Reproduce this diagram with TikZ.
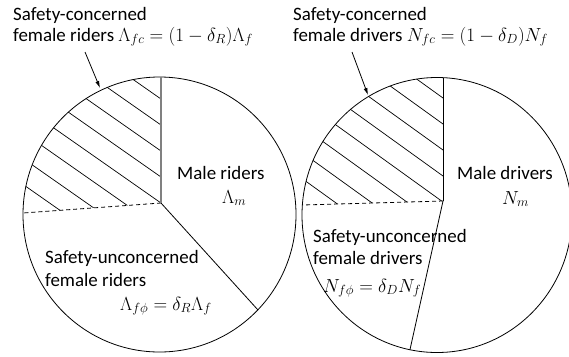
\documentclass[tikz,border=0pt]{standalone}
\usepackage{fix-cm}
\usepackage{fontspec}
\setmainfont{Carlito}
\usetikzlibrary{arrows.meta}

\tikzset{
  lbl/.style={anchor=base west, inner sep=0pt, font=\fontsize{19}{23}\selectfont},
  pie/.style={line width=0.8bp},
  hatch/.style={line width=0.7bp},
  split/.style={line width=0.8bp, dash pattern=on 4bp off 3bp},
  ptr/.style={line width=0.8bp, -{Latex[length=7bp, width=4bp]}},
}

\begin{document}
\begin{tikzpicture}[x=1bp, y=-1bp]
    \useasboundingbox (0,0) rectangle (569,356);
    % riders pie
    \coordinate (rc) at (159.5,214.5);
    \coordinate (ra) at (161,203);
    \coordinate (rtop) at (161,77);
    \coordinate (rlow) at (258,310);
    \coordinate (rleft) at (23,213);
    \begin{scope}
      \clip (rc) ellipse [x radius=136.5, y radius=137.5];
      \clip (ra) -- (161,0) -- (0,0) -- (0,214.7) -- cycle;
      \foreach \k in {0,...,7}
        \draw[hatch] (-39,{99+26*\k-140}) -- (161,{99+26*\k});
    \end{scope}
    \draw[pie] (rc) ellipse [x radius=136.5, y radius=137.5];
    \draw[pie] (ra) -- (rlow);
    \draw[split] (ra) -- (rleft);
    \draw[line width=1.3bp, gray] (ra) -- (rtop);
    % drivers pie
    \coordinate (dc) at (437,215);
    \coordinate (da) at (443,201);
    \coordinate (dtop) at (443,77.6);
    \coordinate (dlow) at (410,349.5);
    \coordinate (dleft) at (302.5,205);
    \begin{scope}
      \clip (dc) ellipse [x radius=135, y radius=137.5];
      \clip (da) -- (443,0) -- (280,0) -- (280,205.6) -- cycle;
      \foreach \k in {0,...,7}
        \draw[hatch] (243,{98+26*\k-144}) -- (443,{98+26*\k});
    \end{scope}
    \draw[pie] (dc) ellipse [x radius=135, y radius=137.5];
    \draw[pie] (da) -- (dlow);
    \draw[split] (da) -- (dleft);
    \draw[pie] (da) -- (dtop);
    % labels
    \node[lbl] (rsc) at (13,20) {Safety-concerned};
    \node[lbl] (rfc) at (13,41) {female riders $\Lambda_{fc}=(1-\delta_R)\Lambda_f$};
    \node[lbl] (rm) at (177,179) {Male riders};
    \node[lbl] (rmv) at (222,203) {$\Lambda_m$};
    \node[lbl] (rsu) at (45,263) {Safety-unconcerned};
    \node[lbl] (rfu) at (45,286) {female riders};
    \node[lbl] (rfv) at (120,310) {$\Lambda_{f\phi}=\delta_R\Lambda_f$};
    \node[lbl] (dsc) at (293,20) {Safety-concerned};
    \node[lbl] (dfc) at (293,41) {female drivers $N_{fc}=(1-\delta_D)N_f$};
    \node[lbl] (dm) at (457,179) {Male drivers};
    \node[lbl] (dmv) at (502,204) {$N_m$};
    \node[lbl] (dsu) at (313,242) {Safety-unconcerned};
    \node[lbl] (dfu) at (313,264) {female drivers};
    \node[lbl] (dfv) at (323,292) {$N_{f\phi}=\delta_D N_f$};
    % pointers
    \coordinate (rptail) at (85,52);
    \coordinate (rptip) at (100,88);
    \coordinate (dptail) at (352,52);
    \coordinate (dptip) at (368,95);
    \draw[ptr] (rptail) -- (rptip);
    \draw[ptr] (dptail) -- (dptip);
\end{tikzpicture}
\end{document}
